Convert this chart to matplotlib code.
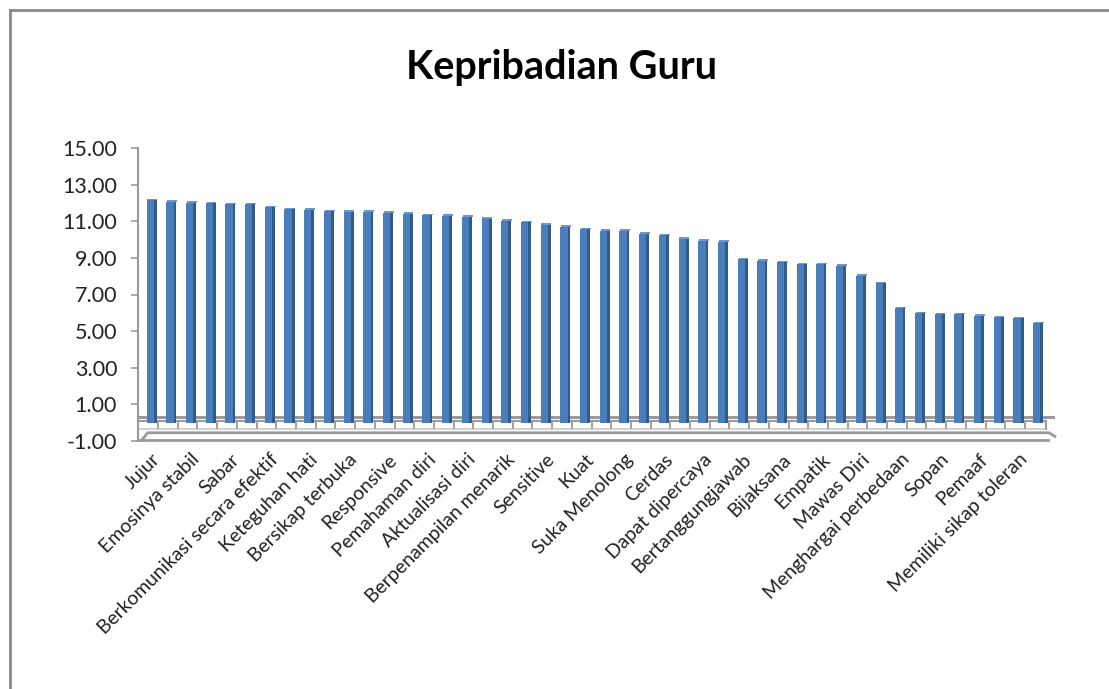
import matplotlib.pyplot as plt
import numpy as np

# data (46 bars, every other one labelled)
values = [12.16, 12.07, 12.02, 11.98, 11.93, 11.93, 11.77, 11.67, 11.62, 11.56,
          11.52, 11.52, 11.47, 11.40, 11.34, 11.31, 11.25, 11.14, 11.02, 10.95,
          10.80, 10.71, 10.56, 10.47, 10.47, 10.31, 10.25, 10.04, 9.94, 9.89,
          8.94, 8.85, 8.76, 8.65, 8.65, 8.56, 8.02, 7.62, 6.25, 5.98,
          5.93, 5.93, 5.85, 5.76, 5.69, 5.44]
labels = ['Jujur', 'Emosinya stabil', 'Sabar', 'Berkomunikasi secara efektif',
          'Keteguhan hati', 'Bersikap terbuka', 'Responsive', 'Pemahaman diri',
          'Aktualisasi diri', 'Berpenampilan menarik', 'Sensitive', 'Kuat',
          'Suka Menolong', 'Cerdas', 'Dapat dipercaya', 'Bertanggungjawab',
          'Bijaksana', 'Empatik', 'Mawas Diri', 'Menghargai perbedaan', 'Sopan',
          'Pemaaf', 'Memiliki sikap toleran']
yticks = [-1, 1, 3, 5, 7, 9, 11, 13, 15]
title = 'Kepribadian Guru'

plt.rcParams['font.family'] = ['Lato', 'DejaVu Sans']

FACE = '#4A7EBB'
SIDE = '#345A88'
GRID = '#9A9A9A'

fig = plt.figure(figsize=(11.09, 6.89), dpi=100)
ax = fig.add_axes([138 / 1109, 1 - 441 / 689, 912 / 1109, 293 / 689])

x = np.arange(len(values))
# front face + darker side to fake the 3d look
ax.bar(x - 0.07, values, width=0.37, color=FACE, zorder=3)
ax.bar(x + 0.185, values, width=0.14, color=SIDE, zorder=3)
ax.bar(x + 0.04, [0.08] * len(values), bottom=values, width=0.5,
       color='#6C97CC', zorder=4)

ax.set_xlim(-0.69, 45.6)
ax.set_ylim(-1, 15)
ax.set_yticks(yticks)
ax.set_yticklabels(['%.2f' % v for v in yticks], fontsize=15.5, color='#222222')
ax.tick_params(axis='y', length=5, width=1.2, color=GRID, pad=10)

ax.set_xticks(x[::2])
ax.set_xticklabels(labels, rotation=45, ha='right', rotation_mode='anchor',
                   fontsize=14, color='#222222')
ax.tick_params(axis='x', length=0, pad=7)

for s in ['top', 'right', 'bottom']:
    ax.spines[s].set_visible(False)
ax.spines['left'].set_color(GRID)
ax.spines['left'].set_linewidth(1.5)

# floor of the fake 3d chart
kw = dict(color=GRID, clip_on=False, zorder=2)
ax.plot([-0.69, 45.75], [0.32, 0.32], lw=2.2, **kw)
ax.plot([-0.66, 45.38], [0.08, 0.08], lw=1.5, **kw)
ax.plot([-0.66, 45.38], [-0.35, -0.35], lw=1.2, color='#C8C8C8', clip_on=False)
ax.plot([45.38, 45.38], [0.08, -0.35], lw=1.5, **kw)
for k in range(45):
    ax.plot([k + 0.33, k + 0.33], [0.08, -0.3], lw=1.3, **kw)
ax.plot([-0.45, -0.2, 45.55, 45.85], [-0.9, -0.55, -0.55, -0.75], lw=2, **kw)
ax.plot([-0.66, 45.5], [-0.93, -0.93], lw=2, **kw)

fig.text(0.506, 1 - 68 / 689, title, ha='center', va='center',
         fontsize=28.5, fontweight='bold', color='black')

# outer frame, cut at right/bottom like the reference
fig.add_artist(plt.Line2D([10 / 1109, 10 / 1109], [0, 1 - 10 / 689],
                          transform=fig.transFigure, color='#8A8A8A', lw=2))
fig.add_artist(plt.Line2D([10 / 1109, 1], [1 - 10 / 689, 1 - 10 / 689],
                          transform=fig.transFigure, color='#8A8A8A', lw=2))

fig.savefig('out.png', dpi=100)
